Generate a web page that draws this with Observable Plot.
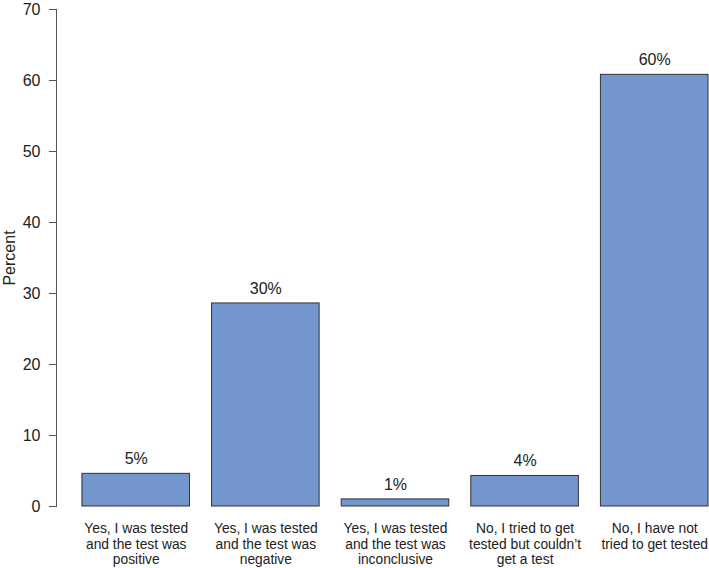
<!DOCTYPE html>
<html>
<head>
<meta charset="utf-8">
<script src="https://cdn.jsdelivr.net/npm/d3@7"></script>
<script src="https://cdn.jsdelivr.net/npm/@observablehq/plot@0.6"></script>
<style>
  html, body { margin: 0; padding: 0; background: #fff; }
  svg { font-family: "Liberation Sans", Arial, sans-serif; }
</style>
</head>
<body>
<div id="chart"></div>
<script>
const categories = [
  "Yes, I was tested\nand the test was\npositive",
  "Yes, I was tested\nand the test was\nnegative",
  "Yes, I was tested\nand the test was\ninconclusive",
  "No, I tried to get\ntested but couldn\u2019t\nget a test",
  "No, I have not\ntried to get tested"
];
const values = [4.6, 28.6, 1.0, 4.3, 60.8];
const valueLabels = ["5%", "30%", "1%", "4%", "60%"];
const yTicks = [0, 10, 20, 30, 40, 50, 60, 70];
const yTitle = ["Percent"];

const data = categories.map((c, i) => ({cat: c, value: values[i], label: valueLabels[i]}));

const chart = Plot.plot({
  width: 709,
  height: 568,
  marginTop: 9,
  marginBottom: 62,
  marginLeft: 56,
  marginRight: 1,
  style: {fontFamily: "Liberation Sans, Arial, sans-serif", background: "#fff", color: "#222"},
  x: {domain: categories, paddingInner: 0.17, paddingOuter: 0.1, align: 1, round: false, axis: null},
  y: {domain: [0, 70]},
  marks: [
    Plot.barY(data, {x: "cat", y: "value", fill: "#7396cc", stroke: "#333", strokeWidth: 1}),
    Plot.text(data, {x: "cat", y: "value", text: "label", dy: -15, fontSize: 16, fill: "#222"}),
    Plot.text(data, {x: "cat", text: "cat", frameAnchor: "bottom", dy: 16, lineAnchor: "top", lineHeight: 1.12, fontSize: 13.8, fill: "#222"}),
    Plot.axisY({ticks: yTicks, tickSize: 7, tickPadding: 9, fontSize: 16, stroke: "#555", label: null}),
    Plot.text(yTitle, {text: d => d, frameAnchor: "left", textAnchor: "middle", rotate: -90, dx: -47, fontSize: 16, fill: "#222"}),
    Plot.frame({anchor: "left", stroke: "#555"})
  ]
});
document.getElementById("chart").append(chart);
</script>
</body>
</html>
